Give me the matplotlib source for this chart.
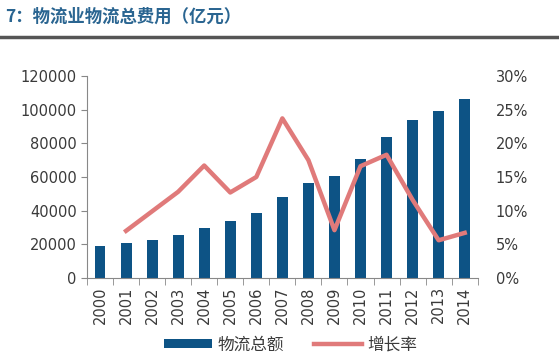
import matplotlib.pyplot as plt
import numpy as np

plt.rcParams['font.family'] = ['Noto Sans CJK SC', 'DejaVu Sans']

years = ['2000', '2001', '2002', '2003', '2004', '2005', '2006', '2007',
         '2008', '2009', '2010', '2011', '2012', '2013', '2014']
total = [19200, 20600, 22600, 25500, 29500, 33700, 38600, 47900,
         56200, 60600, 70900, 83600, 93700, 99200, 106100]
growth = [None, 7.0, 9.9, 12.8, 16.7, 12.7, 15.0, 23.7,
          17.5, 7.1, 16.6, 18.3, 11.6, 5.6, 6.7]

bar_color = '#0d5385'
line_color = '#e07a7a'
grey = '#888888'
txt = '#3a3a3a'
num_font = 'DejaVu Sans'

fig = plt.figure(figsize=(5.59, 3.64), dpi=100)
fig.text(0.01, 0.953, '7：物流业物流总费用（亿元）', color='#2a6591',
         fontsize=12.5, fontweight='bold', va='center', ha='left')
fig.add_artist(plt.Line2D([0, 1], [0.898, 0.898], color='#555555', lw=2.5))

ax = fig.add_axes([0.1556, 0.2363, 0.699, 0.555])
x = np.arange(len(years))
ax.bar(x, total, width=0.42, color=bar_color, label='物流总额', zorder=2)
ax.set_xlim(-0.5, len(years) - 0.5)
ax.set_ylim(0, 120000)
ax.set_yticks(np.arange(0, 120001, 20000))
ax.set_xticks(x)
ax.set_xticklabels(years, rotation=90, fontsize=10.5, color=txt, family=num_font)
for lab in ax.get_yticklabels():
    lab.set_family(num_font)
ax.set_xticks(np.arange(-0.5, len(years), 1), minor=True)
ax.tick_params(axis='x', which='major', length=0, pad=6)
ax.tick_params(axis='x', which='minor', length=5, color=grey, direction='out')
ax.tick_params(axis='y', labelsize=10.5, labelcolor=txt, color=grey, length=4)
for s in ['top', 'right']:
    ax.spines[s].set_visible(False)
ax.spines['left'].set_color(grey)
ax.spines['bottom'].set_color(grey)

ax2 = ax.twinx()
gx = [i for i, g in enumerate(growth) if g is not None]
gy = [g for g in growth if g is not None]
ax2.plot(gx, gy, color=line_color, lw=3.2, label='增长率', zorder=3)
ax2.set_ylim(0, 30)
ax2.set_yticks(np.arange(0, 31, 5))
ax2.set_yticklabels([f'{v}%' for v in range(0, 31, 5)], family=num_font)
ax2.tick_params(axis='y', labelsize=10.5, labelcolor=txt, length=0, pad=13)
for s in ['top', 'right', 'left', 'bottom']:
    ax2.spines[s].set_visible(False)

h1, l1 = ax.get_legend_handles_labels()
h2, l2 = ax2.get_legend_handles_labels()
fig.legend(h1 + h2, l1 + l2, loc='center', bbox_to_anchor=(0.52, 0.052),
           ncol=2, frameon=False, fontsize=12, handlelength=2.9,
           handleheight=0.5, handletextpad=0.3, columnspacing=1.8,
           labelcolor=txt)

plt.savefig('out.png', dpi=100)
plt.close()
